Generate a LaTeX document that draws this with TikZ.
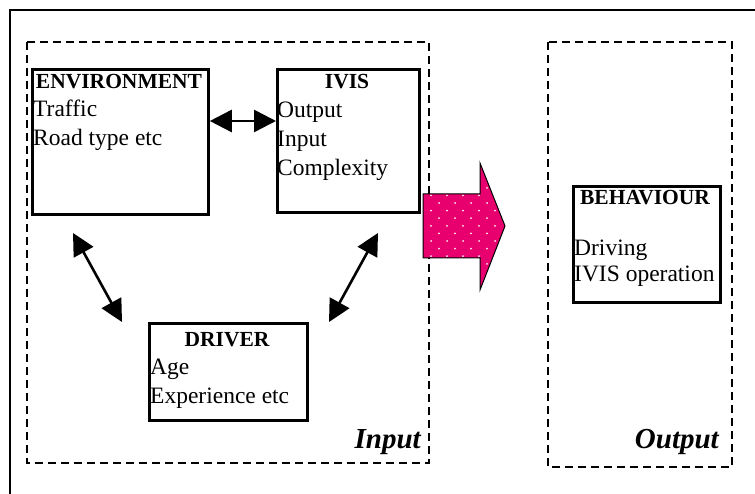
\documentclass[tikz,border=0pt]{standalone}
\usepackage{fontspec}
\setmainfont{Liberation Serif}
\usetikzlibrary{arrows.meta,calc}
\definecolor{pinkfill}{RGB}{232,0,110}
\begin{document}
\begin{tikzpicture}[x=1pt,y=-1pt,
  box/.style={draw,line width=2.8pt,anchor=north west,inner sep=0pt},
  dashbox/.style={draw,line width=2pt,dash pattern=on 8pt off 5pt},
  txt/.style={anchor=base west,inner sep=0pt,font=\fontsize{23.5}{28}\selectfont},
  ttl/.style={anchor=base,inner sep=0pt,font=\fontsize{21.5}{28}\selectfont\bfseries},
  lbl/.style={anchor=base east,inner sep=0pt,font=\fontsize{29}{32}\selectfont\bfseries\itshape},
  dbl/.style={line width=2.6pt,{Triangle[length=22pt,width=22pt]}-{Triangle[length=22pt,width=22pt]}}]
\useasboundingbox (0,0) rectangle (755,494);
\fill[white] (0,0) rectangle (755,494);
% outer frame
\draw[line width=2pt] (10,10) rectangle (770,510);
% dashed groups
\draw[dashbox] (27,42) rectangle (429,463);
\draw[dashbox] (548,42) rectangle (732,467);
\node[lbl] (inlbl) at (421,448) {Input};
\node[lbl] (outlbl) at (719,448) {Output};
% boxes
\node[box,minimum width=176pt,minimum height=145pt] (env) at (31,68) {};
\node[box,minimum width=142pt,minimum height=143pt] (ivis) at (276,68) {};
\node[box,minimum width=158pt,minimum height=97pt] (drv) at (148,322) {};
\node[box,minimum width=147pt,minimum height=116pt] (beh) at (572,185) {};
% texts
\node[ttl] (envt) at (119,89) {ENVIRONMENT};
\node[txt] (env1) at (33,117) {Traffic};
\node[txt] (env2) at (33,146) {Road type etc};
\node[ttl] (ivist) at (347,89) {IVIS};
\node[txt] (ivis1) at (277,118) {Output};
\node[txt] (ivis2) at (277,147) {Input};
\node[txt] (ivis3) at (277,176) {Complexity};
\node[ttl] (drvt) at (227,346) {DRIVER};
\node[txt] (drv1) at (150,374) {Age};
\node[txt] (drv2) at (150,403) {Experience etc};
\node[ttl] (beht) at (645,205) {BEHAVIOUR};
\node[txt] (beh1) at (574,256) {Driving};
\node[txt] (beh2) at (574,282) {IVIS operation};
% connectors
\coordinate (h1) at (env.east |- 0,121);
\coordinate (h2) at (ivis.west |- 0,121);
\draw[dbl] (h1) -- (h2);
\coordinate (l1) at (73,233);
\coordinate (l2) at (122,322);
\draw[dbl] (l1) -- (l2);
\coordinate (r1) at (378,233);
\coordinate (r2) at (329,322);
\draw[dbl] (r1) -- (r2);
% big pink arrow
\path[fill=pinkfill] (423,194) -- (480,194) -- (480,163) -- (505,226) -- (480,290) -- (480,258) -- (423,258) -- cycle;
\begin{scope}
\clip (423,194) -- (480,194) -- (480,163) -- (505,226) -- (480,290) -- (480,258) -- (423,258) -- cycle;
\foreach \r in {0,...,18} {
  \foreach \c in {0,...,6} {
    \pgfmathsetmacro{\xx}{431+16*\c+mod(\r,2)*8}
    \pgfmathsetmacro{\yy}{165+7.6*\r}
    \fill[white!92!pinkfill] (\xx,\yy) circle (1pt);
  }
}
\end{scope}
\draw[line width=1pt,line join=miter] (423,194) -- (480,194) -- (480,163) -- (505,226) -- (480,290) -- (480,258) -- (423,258) -- cycle;
\end{tikzpicture}
\end{document}
